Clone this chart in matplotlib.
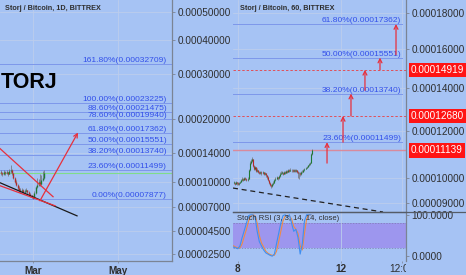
import numpy as np
import matplotlib
matplotlib.use("Agg")
import matplotlib.pyplot as plt
from matplotlib.lines import Line2D
from matplotlib.ticker import FixedLocator, FormatStrFormatter, NullLocator
from matplotlib.transforms import Bbox, blended_transform_factory

plt.rcParams['font.family'] = ['Liberation Sans', 'DejaVu Sans']

# ---------------- data ----------------
# fib levels
fib_pct_left = ['161.80%', '100.00%', '88.60%', '78.60%', '61.80%', '50.00%', '38.20%', '23.60%', '0.00%']
fib_val_left = [0.00032709, 0.00023225, 0.00021475, 0.00019940, 0.00017362, 0.00015551, 0.00013740, 0.00011499, 0.00007877]
fib_pct_right = ['61.80%', '50.00%', '38.20%', '23.60%']
fib_val_right = [0.00017362, 0.00015551, 0.00013740, 0.00011499]

left_yticks = [0.0005, 0.0004, 0.0003, 0.0002, 0.00014, 0.0001, 0.00007, 0.000045, 0.000025]
right_yticks = [0.00018, 0.00016, 0.00014, 0.00012, 0.0001, 0.00009]
stoch_yticks = [0, 100]
price_tags = [0.00014919, 0.00012680, 0.00011139]
target_lines = [0.00014919, 0.00012680]
last_price = 0.00011139

left_xticks = [59, 120]          # day of year: 1 Mar, 1 May
left_xlabels = ['Mar', 'May']
right_xticks = [4, 100, 157]     # hourly bars
right_xlabels = ['8', '12', '12:00']

# daily candles (satoshi), day of year 36..67
d_day = np.arange(36, 68)
d_open0 = 11300
d_close = [11200, 11000, 11300, 11100, 11250, 11050, 11400, 11600, 11100, 10500, 10000, 9600,
           9200, 8950, 8850, 8900, 8750, 8800, 8900, 8700, 8500, 8300, 8100, 8000,
           8600, 9300, 9600, 9900, 9700, 10200, 10500, 11139]
d_high = [11500, 11350, 11550, 11400, 11500, 11350, 11700, 12300, 11700, 11200, 10600, 10200,
          9700, 9400, 9200, 9200, 9100, 9050, 9150, 9000, 8800, 8600, 8400, 8250,
          8800, 9500, 10500, 10300, 11000, 10900, 11400, 11500]
d_low = [10900, 10800, 10900, 10850, 10950, 10800, 10950, 11200, 10900, 10300, 9800, 9400,
         9000, 8700, 8600, 8650, 8550, 8550, 8650, 8450, 8250, 8050, 7950, 7877,
         7950, 8500, 9200, 9500, 9400, 9600, 10100, 10400]

# hourly candles (satoshi), bars 0..73
h_bar = np.arange(0, 74)
h_open0 = 9790
h_close = [9800, 9760, 9820, 9780, 9740, 9790, 9830,
           9900, 9960, 9920, 9990, 9950, 9900, 9960,
           10300, 10620, 10700, 10760,
           10480, 10350, 10420, 10280, 10320,
           10250, 10200, 10230, 10170, 10210, 10150, 10190, 10100, 10040,
           9900, 9790, 9700, 9640, 9740, 9800,
           9890, 9960, 10010, 9970, 10060,
           10150, 10190, 10200, 10160, 10230, 10200, 10260, 10230,
           10300, 10280, 10330, 10300, 10290, 10310, 10280, 10300, 10250,
           10190, 10170, 10140, 10210, 10250,
           10310, 10350, 10400, 10440, 10500, 10560, 10610,
           11000, 11139]
h_high = [9850, 9830, 9860, 9840, 9810, 9840, 9880,
          9950, 10020, 9990, 10040, 10010, 9970, 10010,
          10350, 10680, 10780, 10860,
          10760, 10520, 10480, 10440, 10380,
          10330, 10280, 10290, 10260, 10270, 10230, 10240, 10200, 10120,
          10060, 9920, 9820, 9750, 9790, 9860,
          9940, 10010, 10060, 10040, 10100,
          10210, 10260, 10280, 10230, 10290, 10270, 10320, 10300,
          10360, 10350, 10380, 10370, 10340, 10360, 10340, 10350, 10320,
          10270, 10230, 10210, 10260, 10300,
          10350, 10390, 10440, 10480, 10540, 10600, 10650,
          11050, 11180]
h_low = [9740, 9700, 9730, 9720, 9690, 9720, 9770,
         9810, 9880, 9870, 9900, 9890, 9850, 9880,
         9940, 10280, 10580, 10640,
         10420, 10300, 10310, 10230, 10240,
         10190, 10140, 10160, 10110, 10140, 10090, 10120, 10030, 9960,
         9850, 9730, 9650, 9580, 9620, 9720,
         9780, 9870, 9930, 9920, 9950,
         10040, 10130, 10140, 10110, 10150, 10150, 10190, 10180,
         10220, 10230, 10260, 10250, 10240, 10250, 10230, 10240, 10200,
         10000, 9950, 10060, 10120, 10180,
         10230, 10290, 10340, 10390, 10430, 10490, 10540,
         10590, 10960]

# stoch rsi, every second bar
s_bar = np.arange(0, 74, 2)
stoch_k = [22, 20, 18, 25, 45, 62, 80, 98, 100, 100, 95, 60, 35, 25, 15, 8, 5, 2, 0, 5,
           30, 55, 80, 98, 100, 95, 100, 80, 60, 65, 45, 5, 30, 85, 100, 100, 100]
stoch_d = [25, 22, 20, 20, 30, 48, 65, 85, 97, 100, 98, 80, 50, 32, 22, 12, 7, 4, 2, 2,
           12, 35, 60, 85, 97, 98, 97, 90, 72, 65, 55, 25, 15, 55, 90, 100, 100]

# drawn trend lines (day, satoshi) on daily chart
red_upper = ([35.32, 73.4], [14770, 8140])
red_lower = ([35.32, 74.8], [9480, 7110])
black_support = ([35.32, 90.6], [9860, 6030])
left_arrow = ([64.0, 91.3], [7670, 17480])
# hourly chart
black_dashed = ([-0.5, 139.1], [9578, 8644])
step_arrows_x = [87, 101.9, 109.3, 122.3, 136.3, 151.2]
step_arrows_from = [10600, 11499, 12680, 13900, 14919, 15700]
step_arrows_to = [11499, 12680, 13740, 14919, 15551, 17362]

# ---------------- style ----------------
BG = '#a6c3f4'
GRID = '#bccdec'
AXC = '#7b8494'
TXT = '#2e2e2e'
FIBC = '#7d97ea'
FIBT = '#3350ea'
RED = '#e8303c'
UP = '#1d7a34'
DN = '#b52a2a'
SAT = 1e-8

W, H = 466, 275
fig = plt.figure(figsize=(W / 100, H / 100), dpi=100, facecolor=BG)


def px_axes(x0, y0, x1, y1):
    ax = fig.add_axes([x0 / W, 1 - y1 / H, (x1 - x0) / W, (y1 - y0) / H])
    ax.set_facecolor(BG)
    for s in ax.spines.values():
        s.set_visible(False)
    return ax


def fwd(v):
    v = np.asarray(v, dtype=float)
    return np.log(np.clip(v * 1e4 + 1, 1e-9, None))


def inv(u):
    return (np.exp(u) - 1) / 1e4


def style_y(ax, ticks, fmt):
    ax.yaxis.tick_right()
    ax.yaxis.set_major_locator(FixedLocator(ticks))
    ax.yaxis.set_minor_locator(NullLocator())
    ax.yaxis.set_major_formatter(FormatStrFormatter(fmt))
    ax.tick_params(axis='y', direction='out', length=2.5, width=0.6, color=AXC,
                   labelsize=7.2, labelcolor=TXT, pad=1.5)
    ax.spines['right'].set_visible(True)
    ax.spines['right'].set_color(AXC)
    ax.spines['right'].set_linewidth(0.9)


def draw_candles(ax, x, o0, h, l, c, lw):
    o = [o0] + list(c[:-1])
    for xi, oi, hi, li, ci in zip(x, o, h, l, c):
        col = UP if ci >= oi else DN
        ax.vlines(xi, li * SAT, hi * SAT, color='#6d6d6d', lw=0.5, zorder=3)
        lo, hi2 = min(oi, ci), max(oi, ci)
        if hi2 - lo < 20:
            hi2 = lo + 20
        ax.vlines(xi, lo * SAT, hi2 * SAT, color=col, lw=lw, zorder=4)


# ================= left: daily =================
axL = px_axes(0, 0, 172, 261)
axL.set_yscale('function', functions=(fwd, inv))
axL.set_ylim(0.0000197, 0.0005475)
axL.set_xlim(35.32, 158.76)
style_y(axL, left_yticks, '%.8f')
axL.spines['bottom'].set_visible(True)
axL.spines['bottom'].set_color(AXC)
axL.spines['bottom'].set_linewidth(0.9)
axL.set_xticks(left_xticks)
axL.set_xticklabels(left_xlabels, fontsize=7.2, fontweight='bold', color=TXT)
axL.tick_params(axis='x', length=1.5, width=0.5, color=AXC, pad=2)
axL.grid(True, color=GRID, lw=0.6, zorder=0)
axL.set_axisbelow(True)

for p, v in zip(fib_pct_left, fib_val_left):
    axL.axhline(v, color=FIBC, lw=0.7, zorder=2)
    axL.text(0.971, v, f'{p}({v:.8f})', transform=blended_transform_factory(axL.transAxes, axL.transData),
             ha='right', va='bottom', fontsize=6.1, color=FIBT, zorder=5)
axL.axhline(last_price, color='#7fdc8a', lw=0.8, zorder=2)

draw_candles(axL, d_day, d_open0, d_high, d_low, d_close, 1.0)

axL.plot(red_upper[0], np.array(red_upper[1]) * SAT, color=RED, lw=0.9, zorder=6)
axL.plot(red_lower[0], np.array(red_lower[1]) * SAT, color=RED, lw=0.9, zorder=6)
axL.plot(black_support[0], np.array(black_support[1]) * SAT, color='#1a1a1a', lw=0.9, zorder=5)
axL.annotate('', xy=(left_arrow[0][1], left_arrow[1][1] * SAT),
             xytext=(left_arrow[0][0], left_arrow[1][0] * SAT),
             arrowprops=dict(arrowstyle='->', color=RED, lw=0.9, mutation_scale=7,
                             shrinkA=0, shrinkB=0), zorder=6)

axL.text(5 / 172, 1 - 9 / 261, 'Storj / Bitcoin, 1D, BITTREX', transform=axL.transAxes,
         ha='left', va='center', fontsize=5.2, fontweight='bold', color=TXT)
# big symbol name (only the tail is visible in the screenshot)
axL.text(0.5 / 172, 1 - 88 / 261, 'TORJ', transform=axL.transAxes, ha='left', va='baseline',
         fontsize=15.5, fontweight='bold', color='black')

# ================= right: hourly =================
axR = px_axes(233, 0, 406, 212)
axS = px_axes(233, 212, 406, 261)
axR.set_yscale('function', functions=(fwd, inv))
axR.set_ylim(0.00008644, 0.00018735)
axR.set_xlim(-0.5, 160.5)
axS.set_xlim(-0.5, 160.5)
style_y(axR, right_yticks, '%.8f')
axR.set_xticks(right_xticks)
axR.tick_params(axis='x', length=0, labelbottom=False)
axR.grid(True, color=GRID, lw=0.6, zorder=0)
axR.set_axisbelow(True)

for p, v in zip(fib_pct_right, fib_val_right):
    axR.axhline(v, xmax=0.975, color=FIBC, lw=0.7, zorder=2)
    axR.text(0.973, v, f'{p}({v:.8f})', transform=blended_transform_factory(axR.transAxes, axR.transData),
             ha='right', va='bottom', fontsize=6.1, color=FIBT, zorder=5)
for v in target_lines:
    axR.axhline(v, color='#e0505a', lw=0.7, ls=(0, (2.5, 2)), zorder=2)
axR.axhline(last_price, color='#d98a9c', lw=1.0, zorder=2)

draw_candles(axR, h_bar, h_open0, h_high, h_low, h_close, 0.8)

axR.plot(black_dashed[0], np.array(black_dashed[1]) * SAT, color='#222222', lw=0.9,
         ls=(0, (4, 3)), zorder=5)
for x, a, b in zip(step_arrows_x, step_arrows_from, step_arrows_to):
    axR.annotate('', xy=(x, b * SAT), xytext=(x, a * SAT),
                 arrowprops=dict(arrowstyle='->', color=RED, lw=0.9, mutation_scale=7,
                                 shrinkA=0, shrinkB=0), zorder=6)

axR.text(7 / 173, 1 - 9 / 212, 'Storj / Bitcoin, 60, BITTREX', transform=axR.transAxes,
         ha='left', va='center', fontsize=5.2, fontweight='bold', color=TXT)

tag_tr = blended_transform_factory(axR.transAxes, axR.transData)
for v in price_tags:
    axR.text(1.0 + 5 / 173, v, f'{v:.8f}', transform=tag_tr, ha='left', va='center',
             fontsize=7.2, color='white', clip_on=False, zorder=10,
             bbox=dict(boxstyle='square,pad=0.22', fc='#ff1414', ec='none'))

# stoch rsi pane
axS.set_ylim(-11.7, 106.8)
style_y(axS, stoch_yticks, '%.4f')
axS.spines['top'].set_visible(True)
axS.spines['top'].set_color('#555c68')
axS.spines['top'].set_linewidth(0.9)
axS.axhspan(20, 80, color='#9d96ee', lw=0, zorder=1)
for lv in (20, 80):
    axS.axhline(lv, color='#7c7cb0', lw=0.5, ls=(0, (2, 2)), zorder=2)
axS.axvline(right_xticks[1], color=GRID, lw=0.6, zorder=1.5)
axS.plot(s_bar, stoch_d, color='#f08a44', lw=0.8, zorder=3)
axS.plot(s_bar, stoch_k, color='#3f8ff0', lw=0.8, zorder=4)
axS.text(4 / 173, 80 + 2, 'Stoch RSI (3, 3, 14, 14, close)', transform=blended_transform_factory(axS.transAxes, axS.transData),
         ha='left', va='bottom', fontsize=5.5, color=TXT, zorder=6)
axS.set_xticks(right_xticks)
axS.set_xticklabels([])
axS.tick_params(axis='x', length=1.5, width=0.5, color=AXC, pad=2)

# x labels of hourly chart, the last one cut at the price scale
clip = Bbox.from_extents(0, 0, 406, H)
for x, lab in zip(right_xticks, right_xlabels):
    t = axS.text(x, -0.06, lab, transform=blended_transform_factory(axS.transData, axS.transAxes),
                 ha='center', va='top', fontsize=7.2, color=TXT,
                 fontweight='bold' if ':' not in lab else 'normal')
    t.set_clip_box(clip)
    t.set_clip_on(True)

fig.add_artist(Line2D([233 / W, 1], [1 - 212 / H, 1 - 212 / H], color='#555c68', lw=0.9))

fig.savefig('out.png', dpi=100, facecolor=BG)
